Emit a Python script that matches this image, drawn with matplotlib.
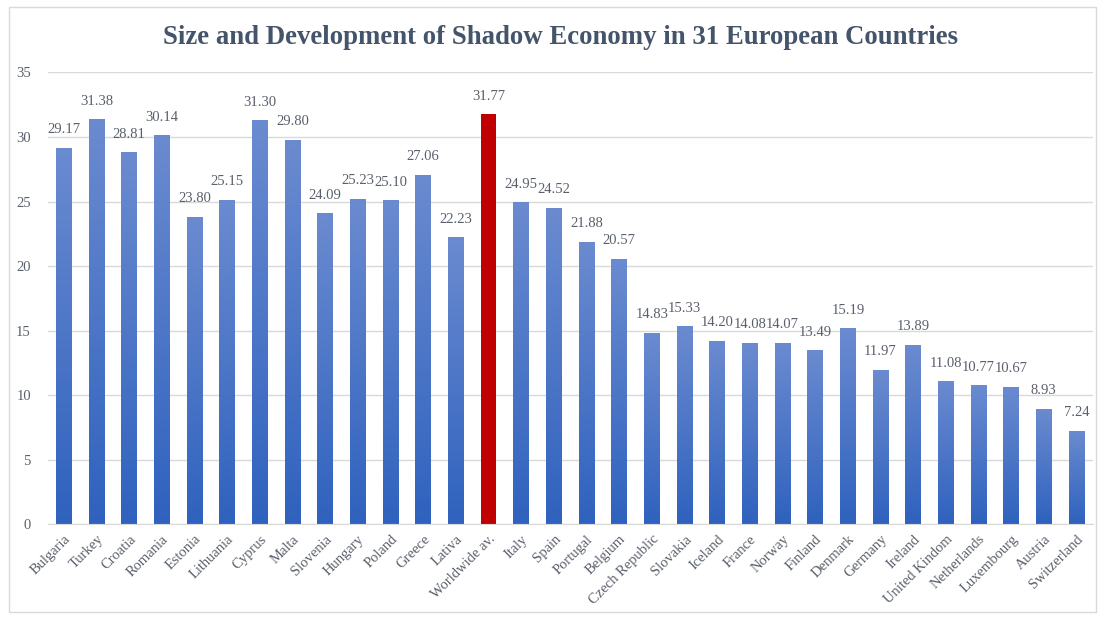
import numpy as np
import matplotlib.pyplot as plt
from matplotlib.patches import Rectangle
from matplotlib.colors import LinearSegmentedColormap

countries = ['Bulgaria', 'Turkey', 'Croatia', 'Romania', 'Estonia', 'Lithuania',
             'Cyprus', 'Malta', 'Slovenia', 'Hungary', 'Poland', 'Greece', 'Lativa',
             'Worldwide av.', 'Italy', 'Spain', 'Portugal', 'Belgium', 'Czech Republic',
             'Slovakia', 'Iceland', 'France', 'Norway', 'Finland', 'Denmark', 'Germany',
             'Ireland', 'United Kindom', 'Netherlands', 'Luxembourg', 'Austria',
             'Switzerland']
values = [29.17, 31.38, 28.81, 30.14, 23.80, 25.15, 31.30, 29.80, 24.09, 25.23,
          25.10, 27.06, 22.23, 31.77, 24.95, 24.52, 21.88, 20.57, 14.83, 15.33,
          14.20, 14.08, 14.07, 13.49, 15.19, 11.97, 13.89, 11.08, 10.77, 10.67,
          8.93, 7.24]
yticks = [0, 5, 10, 15, 20, 25, 30, 35]

plt.rcParams['font.family'] = ['Liberation Serif', 'DejaVu Serif']
txt = '#595f6b'

fig = plt.figure(figsize=(11.05, 6.19), dpi=100)
ax = fig.add_axes([0.043, 0.153, 0.946, 0.73])

# gradient bars: light at the top, darker at the base
blue = LinearSegmentedColormap.from_list('bluegrad', ['#2f62be', '#6b8bd0'])
grad = np.linspace(0, 1, 256).reshape(-1, 1)
x = np.arange(len(countries))
w = 0.48
bars = ax.bar(x, values, width=w, color='none', edgecolor='none')
for i, b in enumerate(bars):
    if countries[i] == 'Worldwide av.':
        b.set_facecolor('#c00000')
        continue
    x0, h = b.get_x(), b.get_height()
    im = ax.imshow(grad, cmap=blue, origin='lower', aspect='auto',
                   extent=[x0, x0 + w, 0, h], zorder=2)
    im.set_clip_path(b)

for xi, v in zip(x, values):
    ax.text(xi, v + 0.9, f'{v:.2f}', ha='center', va='bottom',
            fontsize=10.5, color=txt)

ax.set_xlim(-0.5, len(countries) - 0.5)
ax.set_ylim(0, 35)
ax.set_yticks(yticks)
ax.set_yticklabels([str(t) for t in yticks], fontsize=10.5, color=txt)
ax.set_xticks(x)
ax.set_xticklabels(countries, rotation=45, ha='right', rotation_mode='anchor',
                   fontsize=10.5, color=txt)
ax.grid(axis='y', color='#d9d9d9', linewidth=1)
ax.set_axisbelow(True)
for s in ['top', 'right', 'left']:
    ax.spines[s].set_visible(False)
ax.spines['bottom'].set_color('#d9d9d9')
ax.tick_params(axis='y', length=0, pad=12)
ax.tick_params(axis='x', length=0, pad=6)

fig.text(0.507, 0.94, 'Size and Development of Shadow Economy in 31 European Countries',
         ha='center', va='center', fontsize=19.3, fontweight='bold', color='#44546a')

fig.patches.append(Rectangle((0.008, 0.012), 0.984, 0.977, transform=fig.transFigure,
                             fill=False, edgecolor='#d9d9d9', linewidth=1))

fig.savefig('out.png', dpi=100)
